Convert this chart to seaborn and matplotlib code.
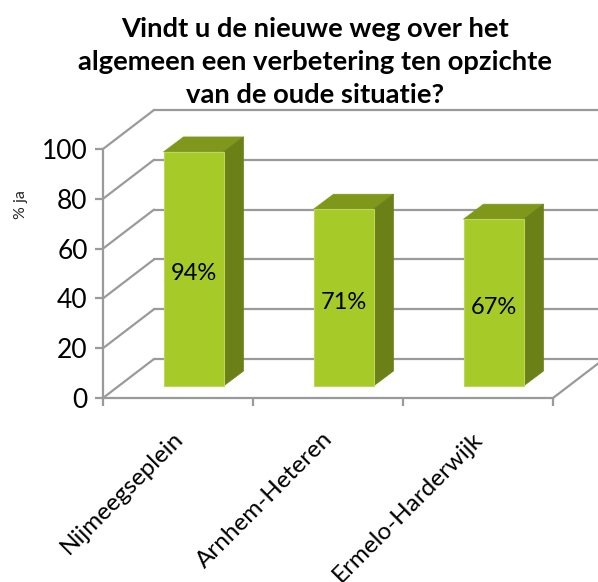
import matplotlib
matplotlib.use("Agg")
import matplotlib.pyplot as plt
from matplotlib.patches import Polygon
from matplotlib.transforms import Affine2D
import seaborn as sns
import pandas as pd

categories = ["Nijmeegseplein", "Arnhem-Heteren", "Ermelo-Harderwijk"]
values = [94, 71, 67]
value_labels = ["94%", "71%", "67%"]
y_ticks = [0, 20, 40, 60, 80, 100]
title_lines = "Vindt u de nieuwe weg over het\nalgemeen een verbetering ten opzichte\nvan de oude situatie?"

W, H = 598, 582
FRONT = "#A6CA27"
TOP = "#7F981C"
SIDE = "#6C8018"
GRID = "#9A9A9A"

sns.set_theme(style="white")
plt.rcParams["font.family"] = ["Lato", "DejaVu Sans"]

fig = plt.figure(figsize=(W / 100, H / 100), dpi=100)
ax = fig.add_axes([103 / W, 1 - 398 / H, 450 / W, 249 / H])
df = pd.DataFrame({"cat": categories, "val": values})
sns.barplot(data=df, x="cat", y="val", color=FRONT, saturation=1, width=0.4,
            ax=ax, zorder=5)
ax.set_xlim(-0.5, 2.5)
ax.set_ylim(0, 100)
ax.set_xlabel("")
ax.set_ylabel("")

def shifted(dx, dy):
    # pixel shift on screen: dy positive is upward
    return ax.transData + Affine2D().translate(dx, dy)

WALL_DX, WALL_DY = 51, 39
BAR_DX, BAR_DY = 15.5, 12
DEPTH_DX, DEPTH_DY = 20, 15
LINE_W = 1.6

def depth_line(px):
    ax.annotate("", xy=(px[0] + WALL_DX, px[1] + WALL_DY), xycoords="figure pixels",
                xytext=(px[0], px[1]), textcoords="figure pixels",
                arrowprops=dict(arrowstyle="-", color=GRID, lw=LINE_W, shrinkA=0, shrinkB=0),
                zorder=1)

# back wall gridlines, floor edges
wall = shifted(WALL_DX, WALL_DY)
for v in y_ticks:
    ax.plot([-0.5, 2.7], [v, v], transform=wall, color=GRID, lw=LINE_W,
            clip_on=False, zorder=1)
    depth_line(ax.transData.transform((-0.5, v)))
depth_line(ax.transData.transform((2.5, 0)))

# 3D bar faces built from the bars seaborn drew
to_px = ax.transData
for bar, lab in zip(ax.patches, value_labels):
    x0, w, h = bar.get_x(), bar.get_width(), bar.get_height()
    bar.set_transform(shifted(BAR_DX, BAR_DY))
    bar.set_edgecolor("#BBD65A")
    bar.set_linewidth(0.8)
    br = to_px.transform((x0 + w, 0)) + (BAR_DX, BAR_DY)
    tl = to_px.transform((x0, h)) + (BAR_DX, BAR_DY)
    tr = to_px.transform((x0 + w, h)) + (BAR_DX, BAR_DY)
    d = (DEPTH_DX, DEPTH_DY)
    ax.add_patch(Polygon([tl, tr, tr + d, tl + d], closed=True, transform=None,
                         facecolor=TOP, edgecolor=TOP, lw=0.5, zorder=4, clip_on=False))
    ax.add_patch(Polygon([br, tr, tr + d, br + d], closed=True, transform=None,
                         facecolor=SIDE, edgecolor=SIDE, lw=0.5, zorder=4, clip_on=False))
    ax.text(x0 + w / 2, h / 2, lab, transform=shifted(BAR_DX, BAR_DY - 5), ha="center",
            va="center", fontsize=17, color="black", zorder=6)

# axes lines and ticks
for s in ["top", "right"]:
    ax.spines[s].set_visible(False)
for s in ["left", "bottom"]:
    ax.spines[s].set_color(GRID)
    ax.spines[s].set_linewidth(LINE_W)
    ax.spines[s].set_zorder(3)
ax.set_yticks(y_ticks)
ax.set_xticks([-0.5, 0.5, 1.5, 2.5])
ax.set_xticklabels([])
ax.tick_params(axis="both", which="major", direction="out", length=6, width=LINE_W,
               color=GRID, left=True, bottom=True, labelsize=19, labelcolor="black", pad=5)

for i, c in enumerate(categories):
    ax.annotate(c, xy=(i, 0), xycoords="data", xytext=(-6, -30), textcoords="offset pixels",
                rotation=45, rotation_mode="anchor", ha="right", va="top",
                fontsize=17.5, color="black", annotation_clip=False)

fig.text(21 / W, 1 - 205 / H, "% ja", rotation=90, ha="center", va="center", fontsize=11.5)
fig.text(315 / W, 1 - 62 / H, title_lines, ha="center", va="center", fontsize=19.7,
         fontweight="bold", linespacing=1.43, color="black")

fig.savefig("out.png", dpi=100)
